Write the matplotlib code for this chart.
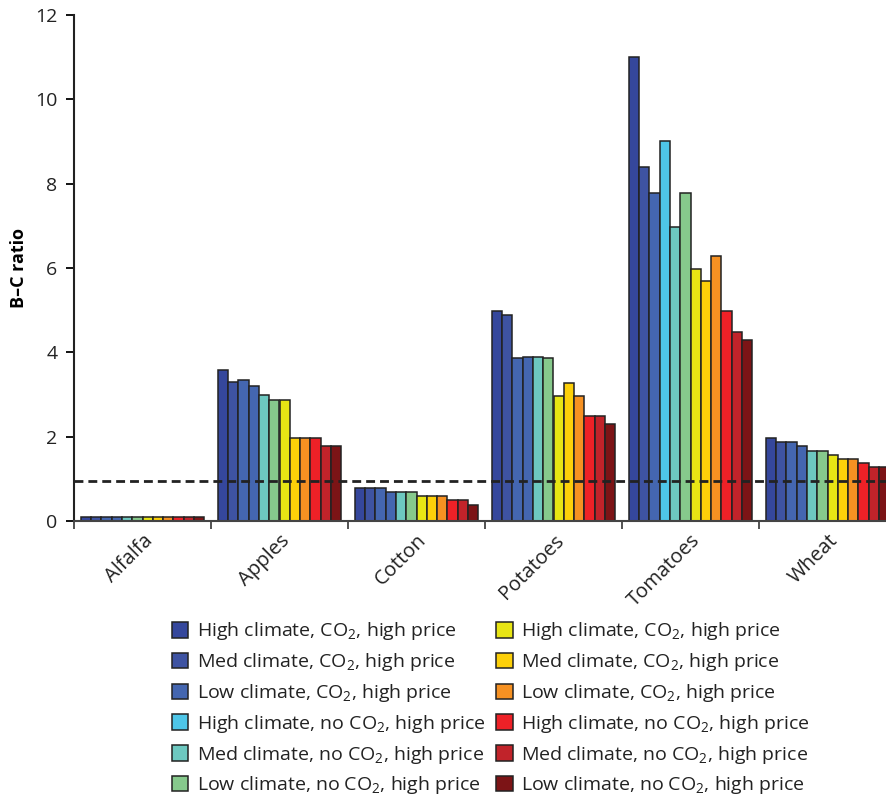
import numpy as np
import matplotlib
matplotlib.use("Agg")
import matplotlib.pyplot as plt
from matplotlib.patches import Patch

plt.rcParams['font.family'] = ['Open Sans', 'DejaVu Sans']
plt.rcParams['mathtext.fontset'] = 'custom'
plt.rcParams['mathtext.rm'] = 'Open Sans'

# data
crops = ["Alfalfa", "Apples", "Cotton", "Potatoes", "Tomatoes", "Wheat"]
scenarios = [
    "High climate, CO$_2$, high price",
    "Med climate, CO$_2$, high price",
    "Low climate, CO$_2$, high price",
    "High climate, no CO$_2$, high price",
    "Med climate, no CO$_2$, high price",
    "Low climate, no CO$_2$, high price",
    "High climate, CO$_2$, high price",
    "Med climate, CO$_2$, high price",
    "Low climate, CO$_2$, high price",
    "High climate, no CO$_2$, high price",
    "Med climate, no CO$_2$, high price",
    "Low climate, no CO$_2$, high price",
]
alfalfa = [0.1, 0.1, 0.1, 0.1, 0.1, 0.1, 0.1, 0.1, 0.1, 0.1, 0.1, 0.1]
apples = [3.58, 3.3, 3.34, 3.19, 2.98, 2.88, 2.88, 1.98, 1.98, 1.98, 1.78, 1.78]
cotton = [0.79, 0.79, 0.79, 0.69, 0.69, 0.69, 0.59, 0.59, 0.59, 0.49, 0.49, 0.39]
potatoes = [4.98, 4.88, 3.87, 3.9, 3.89, 3.87, 2.97, 3.28, 2.97, 2.48, 2.49, 2.3]
tomatoes = [11.0, 8.39, 7.79, 9.0, 6.98, 7.79, 5.98, 5.68, 6.28, 4.98, 4.48, 4.29]
wheat = [1.98, 1.87, 1.88, 1.78, 1.67, 1.67, 1.57, 1.48, 1.48, 1.38, 1.27, 1.27]
values = np.array([alfalfa, apples, cotton, potatoes, tomatoes, wheat])
threshold = 0.95

colors = ["#35479c", "#3e53a2", "#4466b0", "#4ec6e8", "#6dc8c0", "#86c98c",
          "#e8e514", "#fdd009", "#f69122", "#ee2127", "#c1232a", "#7c1416"]
# in the figure the 4th bar is drawn blue for every crop but tomatoes
alt_fourth = "#4466b0"

fig = plt.figure(figsize=(8.86, 7.96), dpi=100)
ax = fig.add_axes([74 / 886, 275 / 796, 822 / 886, 506 / 796])

n = len(scenarios)
width = 0.075
x = np.arange(len(crops))
for i in range(n):
    cols = [colors[i]] * len(crops)
    if i == 3:
        cols = [colors[i] if c == "Tomatoes" else alt_fourth for c in crops]
    ax.bar(x + 0.5 + (i - (n - 1) / 2) * width, values[:, i], width,
           color=cols, edgecolor="#222222", linewidth=1.1, zorder=2)

ax.axhline(threshold, color="#222222", linestyle=(0, (3.2, 1.8)), linewidth=2, zorder=3)

ax.set_xlim(0, 6)
ax.set_ylim(0, 12)
ax.set_yticks(range(0, 13, 2))
ax.set_xticks(np.arange(0, 7))
ax.set_xticklabels([])
ax.set_xticks(x + 0.5, minor=True)
ax.set_xticklabels(crops, minor=True, rotation=45, ha="right", va="top",
                   rotation_mode="anchor", fontsize=14.5, color="#222222")
ax.tick_params(axis="x", which="minor", length=0, pad=7)
ax.tick_params(axis="x", which="major", length=6, width=1.3, color="#444444")
ax.tick_params(axis="y", length=6, width=1.3, labelsize=14, labelcolor="#222222", pad=6)
for s in ["top", "right"]:
    ax.spines[s].set_visible(False)
ax.spines["left"].set_linewidth(1.5)
ax.spines["bottom"].set_linewidth(1.5)
ax.spines["left"].set_color("#222222")
ax.spines["bottom"].set_color("#444444")
ax.set_ylabel("B\u2013C ratio", fontsize=13, fontweight="bold", labelpad=5)

handles = [Patch(facecolor=colors[i], edgecolor="#222222", linewidth=1.1) for i in range(n)]
fig.legend(handles, scenarios, ncol=2, loc="upper left",
           bbox_to_anchor=(154 / 886, 1 - 603 / 796), frameon=False,
           fontsize=14, handlelength=0.85, handleheight=0.85, handletextpad=0.45,
           labelspacing=0.45, columnspacing=0.55, labelcolor="#222222")

fig.savefig("out.png", dpi=100)
